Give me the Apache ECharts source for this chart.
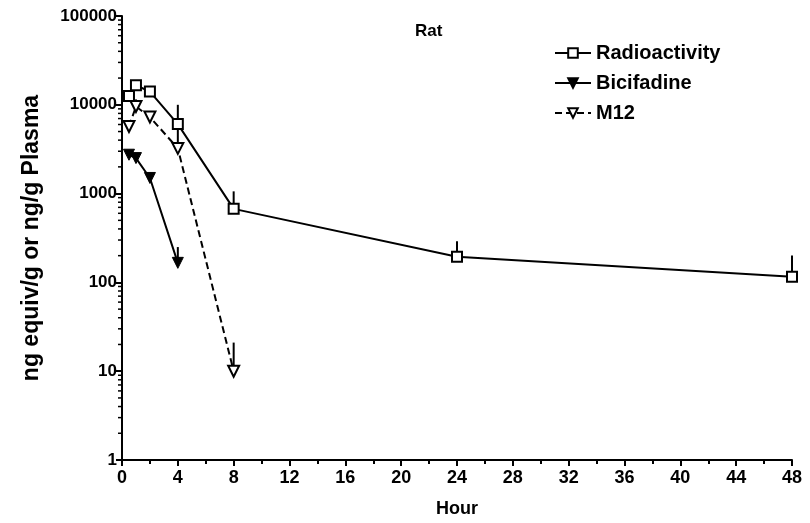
<!DOCTYPE html>
<html>
<head>
<meta charset="utf-8">
<script src="https://cdn.jsdelivr.net/npm/echarts@6/dist/echarts.min.js"></script>
<style>
  html, body { margin: 0; padding: 0; background: #fff; }
  #chart { width: 810px; height: 523px; }
</style>
</head>
<body>
<div id="chart"></div>
<script>
// hours
var radioTimes = [0.5, 1, 2, 4, 8, 24, 48];
var radioValues = [12600, 16600, 14100, 6060, 673, 194, 116];
var radioUpper = [null, null, null, 10000, 1060, 291, 201];

var bicTimes = [0.5, 1, 2, 4];
var bicValues = [2740, 2510, 1500, 166];
var bicUpper = [null, null, null, 250];

var m12Times = [0.5, 1, 2, 4, 8];
var m12Values = [5700, 9560, 7280, 3230, 10];
var m12Upper = [null, 11500, null, 6000, 21];

var font = 'Liberation Sans, Arial, sans-serif';

function pairs(xs, ys) {
  var arr = [];
  for (var i = 0; i < xs.length; i++) arr.push([xs[i], ys[i]]);
  return arr;
}

function errData() {
  var arr = [];
  var sets = [[radioTimes, radioValues, radioUpper], [bicTimes, bicValues, bicUpper], [m12Times, m12Values, m12Upper]];
  sets.forEach(function (s) {
    for (var i = 0; i < s[0].length; i++) {
      if (s[2][i] != null) arr.push([s[0][i], s[1][i], s[2][i]]);
    }
  });
  return arr;
}

// minor ticks 2..9 in each decade for the log axis
var minorVals = [];
for (var d = 1; d < 100000; d *= 10) {
  for (var k = 2; k <= 9; k++) minorVals.push([0, d * k]);
}

var myChart = echarts.init(document.getElementById('chart'), null, { renderer: 'canvas' });

var option = {
  backgroundColor: '#fff',
  animation: false,
  grid: { left: 122, right: 18, top: 16, bottom: 62, containLabel: false },
  title: {
    text: 'Rat', left: 410, top: 18,
    textStyle: { fontFamily: font, fontWeight: 'bold', fontSize: 17, color: '#000' }
  },
  legend: {
    orient: 'vertical', left: 549, top: 38,
    itemWidth: 36, itemHeight: 12, itemGap: 10,
    data: ['Radioactivity', 'Bicifadine', 'M12'],
    textStyle: { fontFamily: font, fontWeight: 'bold', fontSize: 20, color: '#000' }
  },
  xAxis: {
    type: 'value', min: 0, max: 48, interval: 4,
    name: 'Hour', nameLocation: 'middle', nameGap: 40,
    nameTextStyle: { fontFamily: font, fontWeight: 'bold', fontSize: 18, color: '#000' },
    axisLine: { lineStyle: { color: '#000', width: 2 } },
    axisTick: { inside: false, length: 6, lineStyle: { color: '#000', width: 2 } },
    minorTick: { show: true, splitNumber: 2, length: 4, lineStyle: { color: '#000', width: 2 } },
    axisLabel: { fontFamily: font, fontWeight: 'bold', fontSize: 18, color: '#000', margin: 9 },
    splitLine: { show: false }
  },
  yAxis: {
    type: 'log', logBase: 10, min: 1, max: 100000,
    name: 'ng equiv/g or ng/g Plasma', nameLocation: 'middle', nameGap: 79, nameRotate: 90,
    nameTextStyle: { fontFamily: font, fontWeight: 'bold', fontSize: 23, color: '#000' },
    axisLine: { show: true, lineStyle: { color: '#000', width: 2 } },
    axisTick: { show: true, inside: false, length: 6, lineStyle: { color: '#000', width: 2 } },
    axisLabel: {
      fontFamily: font, fontWeight: 'bold', fontSize: 17, color: '#000', margin: 5,
      formatter: function (v) { return String(Math.round(v)); }
    },
    splitLine: { show: false }
  },
  series: [
    {
      name: 'minorTicks', type: 'custom', silent: true, legendHoverLink: false,
      data: minorVals,
      renderItem: function (params, api) {
        var p = api.coord([0, api.value(1)]);
        return {
          type: 'line',
          shape: { x1: p[0] - 4, y1: p[1], x2: p[0], y2: p[1] },
          style: { stroke: '#000', lineWidth: 1.5 }
        };
      },
      z: 1
    },
    {
      name: 'errors', type: 'custom', silent: true,
      data: errData(),
      renderItem: function (params, api) {
        var a = api.coord([api.value(0), api.value(1)]);
        var b = api.coord([api.value(0), api.value(2)]);
        return {
          type: 'line',
          shape: { x1: a[0], y1: a[1], x2: b[0], y2: b[1] },
          style: { stroke: '#000', lineWidth: 2 }
        };
      },
      z: 3
    },
    {
      name: 'Radioactivity', type: 'line', data: pairs(radioTimes, radioValues),
      symbol: 'rect', symbolSize: 10,
      itemStyle: { color: '#fff', borderColor: '#000', borderWidth: 2 },
      lineStyle: { color: '#000', width: 2 },
      z: 4
    },
    {
      name: 'Bicifadine', type: 'line', data: pairs(bicTimes, bicValues),
      symbol: 'triangle', symbolRotate: 180, symbolSize: 11,
      itemStyle: { color: '#000', borderColor: '#000', borderWidth: 1 },
      lineStyle: { color: '#000', width: 2 },
      z: 4
    },
    {
      name: 'M12', type: 'line', data: pairs(m12Times, m12Values),
      symbol: 'triangle', symbolRotate: 180, symbolSize: 11,
      itemStyle: { color: '#fff', borderColor: '#000', borderWidth: 2 },
      lineStyle: { color: '#000', width: 2, type: [7, 4] },
      z: 4
    }
  ]
};

myChart.setOption(option);
window.addEventListener('resize', function () {
  myChart.resize();
});
</script>
</body>
</html>
